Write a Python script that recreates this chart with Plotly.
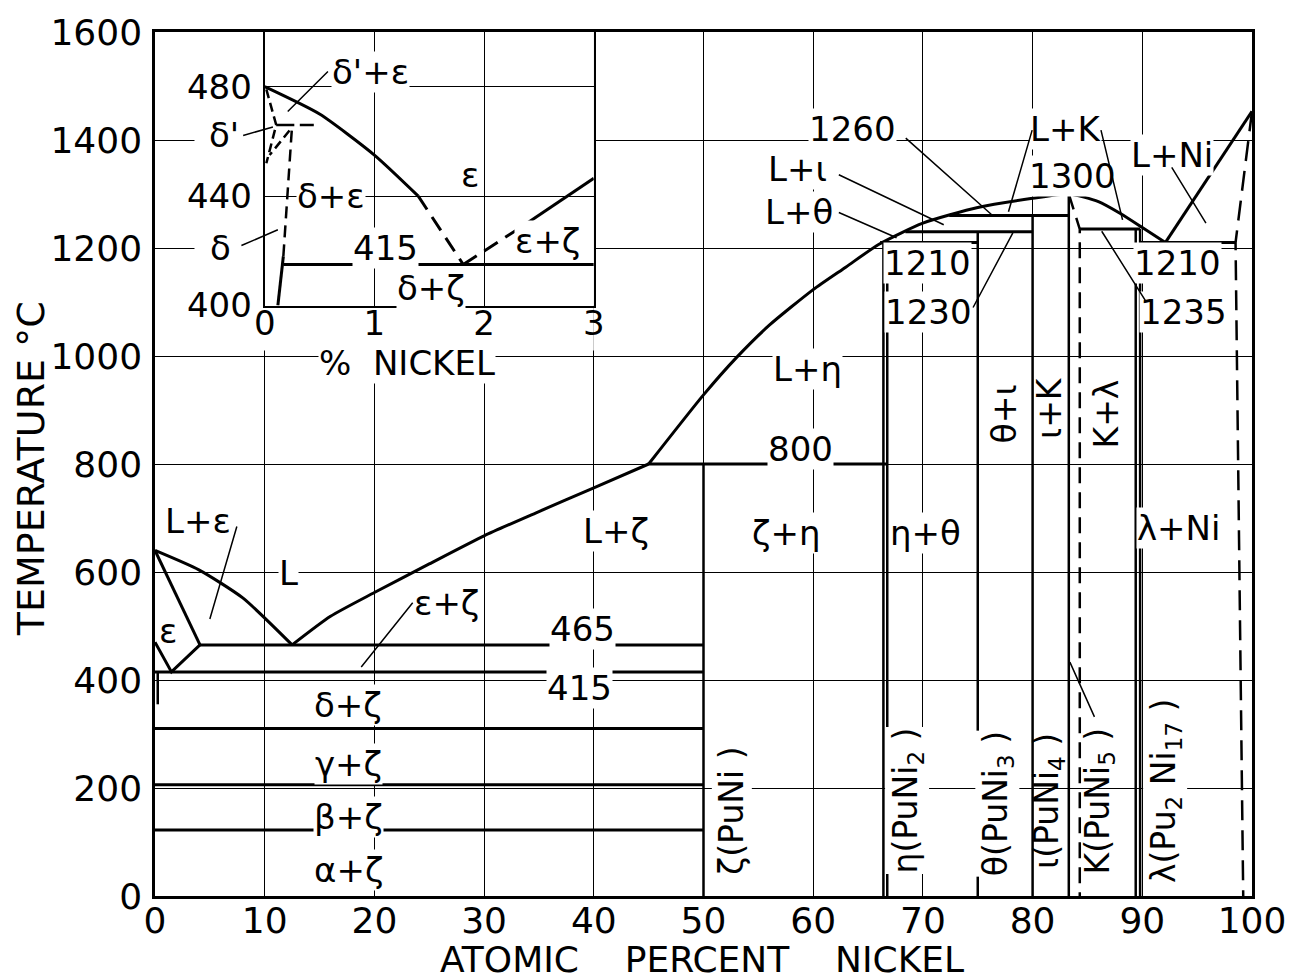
import plotly.graph_objects as go

FONT = "DejaVu Sans"
W, H = 1298, 980
ML, MR, MT, MB = 155, 34, 21, 84

# ---------------- main diagram (atomic % Ni vs temperature) ----------------
x_ticks = list(range(0, 101, 10))
y_ticks = list(range(0, 1601, 200))

liq_eps_x = [0, 4, 8, 12.5]
liq_eps_y = [640, 604, 552, 465]
sol_eps_x = [0, 4.1]
sol_eps_y = [640, 465]
eps_solvus_x = [0, 1.5, 4.1]
eps_solvus_y = [470, 415, 465]
liq_zeta_x = [12.5, 16, 20, 25, 30, 35, 40, 45]
liq_zeta_y = [465, 518, 562, 615, 667, 712, 756, 800]
liq_main_x = [45, 50, 53, 56, 60, 63, 66, 70, 75, 80, 83.3, 86, 88, 90, 92.1]
liq_main_y = [800, 928, 997, 1057, 1123, 1165, 1207, 1246, 1275, 1292, 1300, 1286, 1264, 1238, 1210]
liq_ni_x = [92.1, 100]
liq_ni_y = [1210, 1453]

# isotherms
iso_T = [465, 415, 310, 206, 122, 800, 1210, 1230, 1260, 1235, 1210]
iso_x0 = [4.1, 0, 0, 0, 0, 45, 66.1, 68.4, 72.4, 84.3, 89.8]
iso_x1 = [50, 50, 50, 50, 50, 66.75, 75, 80, 83.3, 89.8, 98.5]

# compound / phase verticals
comp_x = [50, 66.4, 66.75, 75, 80, 83.3, 89.4, 89.8, 0.25]
comp_top = [800, 1210, 1210, 1230, 1260, 1300, 1235, 1235, 415]
comp_bot = [0, 0, 0, 0, 0, 0, 0, 0, 355]

kappa_dash_x = [83.3, 84.3, 84.3]
kappa_dash_y = [1300, 1235, 0]
ni_dash_x = [100, 98.5, 99.2]
ni_dash_y = [1453, 1210, 0]

# white cover behind the inset
cover_x = [3.6, 40, 40, 3.6, 3.6]
cover_y = [1010, 1010, 1600, 1600, 1010]

# ---------------- inset (wt % Ni, 400-500 C) ----------------
in_xticks = [0, 1, 2, 3]
in_yticks = [400, 440, 480]
in_eps_solid_x = [0, 0.5, 1.0, 1.4]
in_eps_solid_y = [480, 470, 455, 440]
in_eps_dash_x = [1.4, 1.6, 1.81]
in_eps_dash_y = [440, 428, 415]
in_ez_dash_x = [1.81, 2.35]
in_ez_dash_y = [415, 429]
in_ez_solid_x = [2.35, 3.0]
in_ez_solid_y = [429, 446.5]
in_415_x = [0.17, 3.0]
in_415_y = [415, 415]
in_delta_solid_x = [0.12, 0.17]
in_delta_solid_y = [400, 418]
in_delta_dash_x = [0.17, 0.25]
in_delta_dash_y = [418, 466]
in_dp1_x = [0.015, 0.105, 0.015]
in_dp1_y = [479, 466, 452]
in_dp2_x = [0.226, 0.045]
in_dp2_y = [464, 455]
in_eut_solid_x = [0.105, 0.27]
in_eut_solid_y = [466, 466]
in_eut_dash_x = [0.32, 0.52]
in_eut_dash_y = [466, 466]

# ---------------- labels ----------------
main_lbl_text = ["L+ε", "ε", "L", "ε+ζ", "465", "415", "δ+ζ", "γ+ζ", "β+ζ", "α+ζ",
                 "L+ζ", "ζ+η", "L+η", "800", "η+θ", "λ+Ni",
                 "1210", "1230", "1260", "L+ι", "L+θ", "L+K", "1300", "L+Ni", "1210", "1235",
                 "δ'", "δ", "%  NICKEL"]
main_lbl_x = [3.95, 1.2, 12.2, 26.6, 39.0, 38.7, 17.6, 17.6, 17.6, 17.6,
              42.0, 57.6, 59.5, 58.8, 70.2, 93.3,
              70.4, 70.5, 63.6, 58.6, 58.7, 83.0, 83.6, 92.7, 93.2, 93.8,
              6.3, 6.0, 23.0]
main_lbl_y = [695, 491, 598, 543, 494, 386, 354, 244, 146, 48,
              676, 672, 976, 827, 672, 681,
              1172, 1081, 1420, 1346, 1267, 1421, 1334, 1373, 1172, 1081,
              1409, 1200, 987]
main_lbl_bg = [True, False, True, True, True, True, True, True, True, True,
               True, True, True, True, True, True,
               True, True, True, True, True, True, True, True, True, True,
               True, True, True]

rot_text = ["ζ(PuNi )", "η(PuNi<sub>2</sub> )", "θ(PuNi<sub>3</sub> )", "ι(PuNi<sub>4</sub> )",
            "K(PuNi<sub>5</sub> )", "λ(Pu<sub>2</sub> Ni<sub>17</sub> )",
            "θ+ι", "ι+K", "K+λ"]
rot_x = [52.6, 68.6, 76.8, 81.5, 86.1, 92.1, 77.4, 81.6, 86.7]
rot_y = [158, 176, 171, 176, 176, 195, 892, 904, 892]
rot_bg = [True, True, True, False, False, True, True, False, True]

in_lbl_text = ["δ'+ε", "ε", "δ+ε", "415", "δ+ζ", "ε+ζ"]
in_lbl_x = [0.965, 1.87, 0.6, 1.1, 1.52, 2.58]
in_lbl_y = [485.5, 447.8, 440, 421, 406.4, 423.5]

# leader lines: (x_from, y_from, x_to, y_to)
main_leaders = [
    (7.5, 687, 5.0, 513),
    (23.6, 546, 18.8, 424),
    (68.3, 1406, 76.3, 1261),
    (62.2, 1337, 71.9, 1243),
    (62.2, 1267, 67.6, 1219),
    (80.0, 1421, 77.8, 1267),
    (86.2, 1421, 88.2, 1252),
    (92.6, 1352, 95.8, 1246),
    (74.5, 1087, 78.2, 1228),
    (90.4, 1099, 86.3, 1231),
    (85.7, 329, 83.4, 433),
]
inset_leaders = [
    (0.59, 486.1, 0.21, 470.9),
    (-0.21, 462.0, 0.075, 465.3),
    (-0.226, 421.7, 0.12, 427.7),
]

fig = go.Figure()

LW = 3


def line(xs, ys, ax="main", dash=None, width=LW, smooth=False):
    ln = dict(color="black", width=width, dash=dash)
    if smooth:
        ln.update(shape="spline", smoothing=0.6)
    kw = dict(x=xs, y=ys, mode="lines", showlegend=False, hoverinfo="skip", line=ln)
    if ax == "inset":
        kw.update(xaxis="x2", yaxis="y2")
    fig.add_trace(go.Scatter(**kw))


# cover (hides main grid behind inset)
fig.add_trace(go.Scatter(x=cover_x, y=cover_y, mode="lines", fill="toself",
                         fillcolor="white", line=dict(width=0, color="white"),
                         showlegend=False, hoverinfo="skip"))

line(liq_eps_x, liq_eps_y, smooth=True)
line(sol_eps_x, sol_eps_y)
line(eps_solvus_x, eps_solvus_y)
line(liq_zeta_x, liq_zeta_y, smooth=True)
line(liq_main_x, liq_main_y, smooth=True)
line(liq_ni_x, liq_ni_y)
for T, a, b in zip(iso_T, iso_x0, iso_x1):
    line([a, b], [T, T])
for xc, t, bt in zip(comp_x, comp_top, comp_bot):
    line([xc, xc], [bt, t], width=2.5)
line(kappa_dash_x, kappa_dash_y, dash="16px,9px", width=2.5)
line(ni_dash_x, ni_dash_y, dash="20px,10px", width=2.5)

# inset
line(in_eps_solid_x, in_eps_solid_y, "inset", smooth=True)
line(in_eps_dash_x, in_eps_dash_y, "inset", dash="16px,9px")
line(in_ez_dash_x, in_ez_dash_y, "inset", dash="16px,9px")
line(in_ez_solid_x, in_ez_solid_y, "inset")
line(in_415_x, in_415_y, "inset")
line(in_delta_solid_x, in_delta_solid_y, "inset")
line(in_delta_dash_x, in_delta_dash_y, "inset", dash="12px,7px", width=2.5)
line(in_dp1_x, in_dp1_y, "inset", dash="9px,5px", width=2.5)
line(in_dp2_x, in_dp2_y, "inset", dash="9px,5px", width=2.5)
line(in_eut_solid_x, in_eut_solid_y, "inset", width=2.5)
line(in_eut_dash_x, in_eut_dash_y, "inset", dash="14px,8px", width=2.5)

LBL = 34
annotations = []
for t, x, y, bg in zip(main_lbl_text, main_lbl_x, main_lbl_y, main_lbl_bg):
    annotations.append(dict(x=x, y=y, xref="x", yref="y", text=t, showarrow=False,
                            font=dict(family=FONT, size=LBL, color="black"),
                            bgcolor="white" if bg else None, borderpad=0))
for t, x, y, bg in zip(rot_text, rot_x, rot_y, rot_bg):
    annotations.append(dict(x=x, y=y, xref="x", yref="y", text=t, showarrow=False,
                            textangle=-90,
                            font=dict(family=FONT, size=LBL - 1, color="black"),
                            bgcolor="white" if bg else None, borderpad=0))
for t, x, y in zip(in_lbl_text, in_lbl_x, in_lbl_y):
    annotations.append(dict(x=x, y=y, xref="x2", yref="y2", text=t, showarrow=False,
                            font=dict(family=FONT, size=LBL, color="black"),
                            bgcolor="white", borderpad=0))
for (x0, y0, x1, y1) in main_leaders:
    annotations.append(dict(x=x1, y=y1, ax=x0, ay=y0, xref="x", yref="y",
                            axref="x", ayref="y", text="", showarrow=True,
                            arrowhead=0, arrowwidth=1.5, arrowcolor="black",
                            standoff=0, startstandoff=0))
for (x0, y0, x1, y1) in inset_leaders:
    annotations.append(dict(x=x1, y=y1, ax=x0, ay=y0, xref="x2", yref="y2",
                            axref="x2", ayref="y2", text="", showarrow=True,
                            arrowhead=0, arrowwidth=1.5, arrowcolor="black",
                            standoff=0, startstandoff=0))

# axis titles
annotations.append(dict(x=0.4986, y=-0.073, xref="paper", yref="paper",
                        xanchor="center", yanchor="middle",
                        text="ATOMIC\u00a0\u00a0\u00a0 PERCENT\u00a0\u00a0\u00a0 NICKEL",
                        showarrow=False, font=dict(family=FONT, size=36, color="black")))
annotations.append(dict(x=-0.113, y=0.494, xref="paper", yref="paper",
                        xanchor="center", yanchor="middle",
                        text="TEMPERATURE °C", textangle=-90,
                        showarrow=False, font=dict(family=FONT, size=38, color="black")))

ax_common = dict(showgrid=True, gridcolor="black", gridwidth=1.3, zeroline=False,
                 showline=True, linecolor="black", mirror=True, ticks="",
                 ticklabeloverflow="allow")

fig.update_layout(
    width=W, height=H,
    margin=dict(l=ML, r=MR, t=MT, b=MB, pad=0),
    paper_bgcolor="white", plot_bgcolor="white",
    showlegend=False,
    xaxis=dict(domain=[0, 1], range=[0, 100], tickvals=x_ticks, linewidth=2.5,
               ticklabelstandoff=-9, tickfont=dict(family=FONT, size=36, color="black"),
               **ax_common),
    yaxis=dict(domain=[0, 1], range=[0, 1600], tickvals=y_ticks, linewidth=2.5,
               ticklabelstandoff=3, tickfont=dict(family=FONT, size=36, color="black"),
               **ax_common),
    xaxis2=dict(domain=[0.1, 0.4], range=[0, 3], tickvals=in_xticks, anchor="y2",
                linewidth=2, ticklabelstandoff=-13,
                tickfont=dict(family=FONT, size=34, color="black"), **ax_common),
    yaxis2=dict(domain=[(896 - 298) / 875, 1], range=[400, 500], tickvals=in_yticks,
                anchor="x2", linewidth=2, ticklabelstandoff=4,
                tickfont=dict(family=FONT, size=34, color="black"), **ax_common),
    annotations=annotations,
)

fig.write_html("out.html")
